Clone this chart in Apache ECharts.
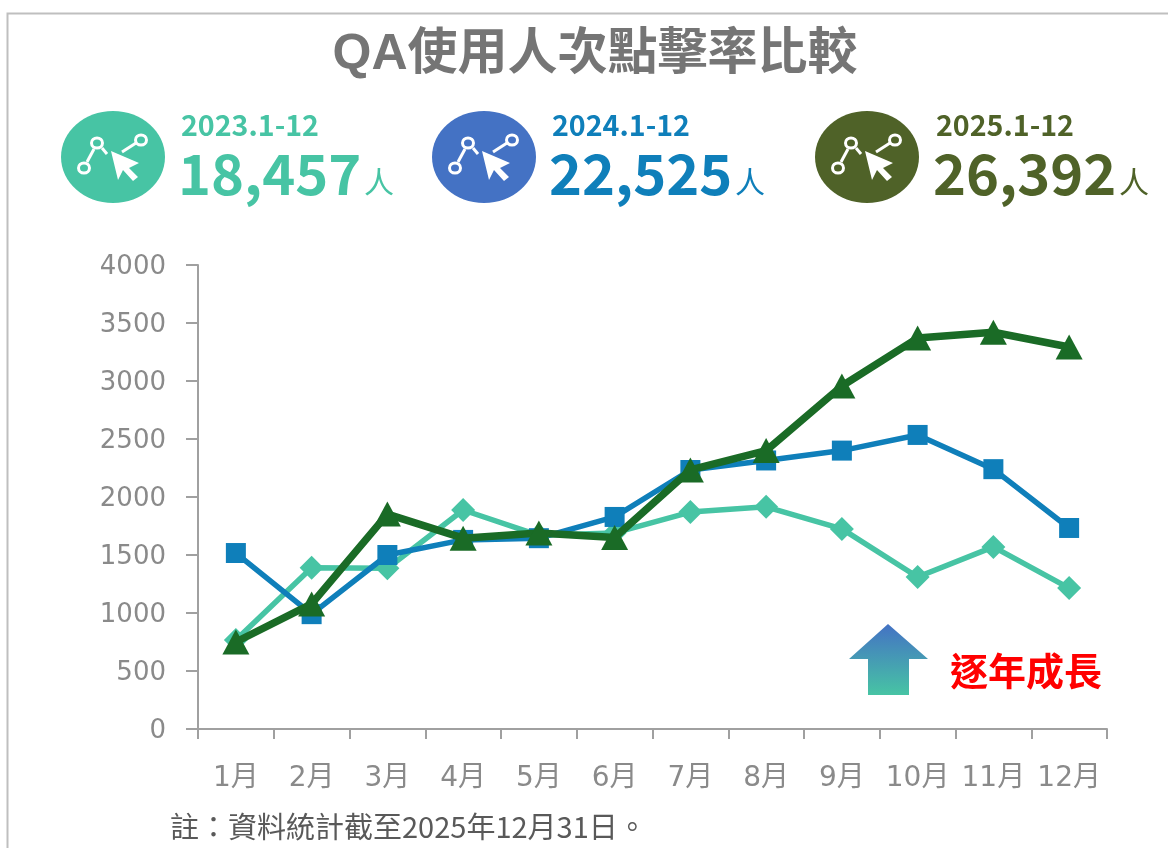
<!DOCTYPE html>
<html>
<head>
<meta charset="utf-8">
<style>html,body{margin:0;padding:0;background:#fff;overflow:hidden}#c{width:1168px;height:848px}</style>
<script src="https://cdn.jsdelivr.net/npm/echarts@6/dist/echarts.min.js"></script>
</head>
<body>
<div id="c"></div>
<script>
const months = ['1月','2月','3月','4月','5月','6月','7月','8月','9月','10月','11月','12月'];
const values2023 = [767,1390,1385,1888,1670,1690,1870,1915,1725,1310,1570,1215];
const values2024 = [1517,990,1500,1630,1645,1828,2233,2315,2400,2535,2240,1733];
const values2025 = [750,1078,1853,1645,1690,1650,2233,2400,2957,3370,3420,3293];
const seriesNames = ['2023','2024','2025'];
const periods = ['2023.1-12','2024.1-12','2025.1-12'];
const totals = ['18,457','22,525','26,392'];
const titleText = 'QA使用人次點擊率比較';
const noteText = '註：資料統計截至2025年12月31日。';
const growthText = '逐年成長';

const CJK = '"Liberation Sans","Noto Sans CJK TC",sans-serif';
const AXIS = '"DejaVu Sans","Noto Sans CJK TC",sans-serif';

function statBlock(left, iconColor, textColor, i, textLeft, ty) {
  const y = 111;
  const ring = (cx, cy) => ({type:'ellipse', shape:{cx:left+cx, cy:y+cy, rx:5.5, ry:5}, style:{fill:'none', stroke:'#fff', lineWidth:3}});
  const seg = (a,b,c,d) => ({type:'line', shape:{x1:left+a,y1:y+b,x2:left+c,y2:y+d}, style:{stroke:'#fff', lineWidth:3}});
  return [
    {type:'ellipse', shape:{cx:left+52, cy:y+46, rx:52, ry:46}, style:{fill:iconColor}},
    seg(26,51,33,38), seg(41,37,46,43), seg(61,41,75,32),
    ring(23,57), ring(36,32), ring(80,29),
    {type:'polygon', shape:{points:[[50,40],[57,69],[62,59],[72,70],[77,66],[68,57],[78,52]].map(p=>[left+p[0],y+p[1]])}, style:{fill:'#fff'}},
    {type:'text', x:textLeft+1, y:ty-1, style:{text:periods[i], fill:textColor, font:'bold 28.6px "Noto Sans CJK TC"', textVerticalAlign:'middle'}},
    {type:'text', x:textLeft-2, y:ty+48, style:{text:totals[i], fill:textColor, font:'bold 56px "Noto Sans CJK TC"', textVerticalAlign:'middle'}},
    {type:'text', x:textLeft+184, y:ty+56, style:{text:'人', fill:textColor, font:'30px "Noto Sans CJK TC"', textVerticalAlign:'middle'}}
  ];
}

const chart = echarts.init(document.getElementById('c'), null, {renderer:'canvas'});
chart.setOption({
  animation:false,
  backgroundColor:'#fff',
  title:{text:titleText, left:590, top:25, textAlign:'center',
    textStyle:{color:'#757575', fontSize:50, fontWeight:'bold', fontFamily:CJK}},
  grid:{left:198, right:61, top:265, bottom:119},
  xAxis:{type:'category', data:months, boundaryGap:true,
    axisLine:{lineStyle:{color:'#a0a0a0', width:2}},
    axisTick:{show:true, length:10, alignWithLabel:false, lineStyle:{color:'#a0a0a0', width:2}},
    axisLabel:{color:'#8a8a8a', fontSize:28, fontFamily:AXIS, margin:36, interval:0},
    splitLine:{show:false}},
  yAxis:{type:'value', min:0, max:4000, interval:500,
    axisLine:{show:true, lineStyle:{color:'#a0a0a0', width:2}},
    axisTick:{show:true, length:12, lineStyle:{color:'#a0a0a0', width:2}},
    axisLabel:{margin:32, formatter:v=>'{n|'+v+'}',
      rich:{n:{color:'#8a8a8a', fontSize:26, fontFamily:AXIS, padding:[5,0,0,0]}}},
    splitLine:{show:false}},
  series:[
    {name:seriesNames[0], type:'line', data:values2023, symbol:'diamond', symbolSize:24, z:2,
      lineStyle:{color:'#47c4a4', width:5.5}, itemStyle:{color:'#47c4a4'}},
    {name:seriesNames[1], type:'line', data:values2024, symbol:'rect', symbolSize:20, z:3,
      lineStyle:{color:'#0f7fba', width:5.5}, itemStyle:{color:'#0f7fba'}},
    {name:seriesNames[2], type:'line', data:values2025, symbol:'triangle', symbolSize:[27,25], z:4,
      lineStyle:{color:'#1a6b26', width:7.5}, itemStyle:{color:'#1a6b26'}}
  ],
  graphic:[
    {type:'polyline', shape:{points:[[7.5,848],[7.5,13.5],[1168,13.5]]}, style:{fill:'none', stroke:'#bfbfbf', lineWidth:2}},
    ...statBlock(61,'#47c4a4','#47c4a4',0,180,126),
    ...statBlock(432,'#4472c4','#0f7fba',1,551,126),
    ...statBlock(815,'#4f6228','#4f6228',2,935,126),
    {type:'polygon', shape:{points:[[888,624],[928,659],[909,659],[909,695],[868,695],[868,659],[849,659]]},
      style:{fill:new echarts.graphic.LinearGradient(0,0,0,1,[{offset:0,color:'#4472c4'},{offset:1,color:'#47c4a4'}])}},
    {type:'text', x:1026, y:671, style:{text:growthText, fill:'#ff0000', font:'bold 38px "Noto Sans CJK TC"', textAlign:'center', textVerticalAlign:'middle'}},
    {type:'text', x:170, y:827, style:{text:noteText, fill:'#595959', font:'29px "Noto Sans CJK TC"', textVerticalAlign:'middle'}}
  ]
});
</script>
</body>
</html>
